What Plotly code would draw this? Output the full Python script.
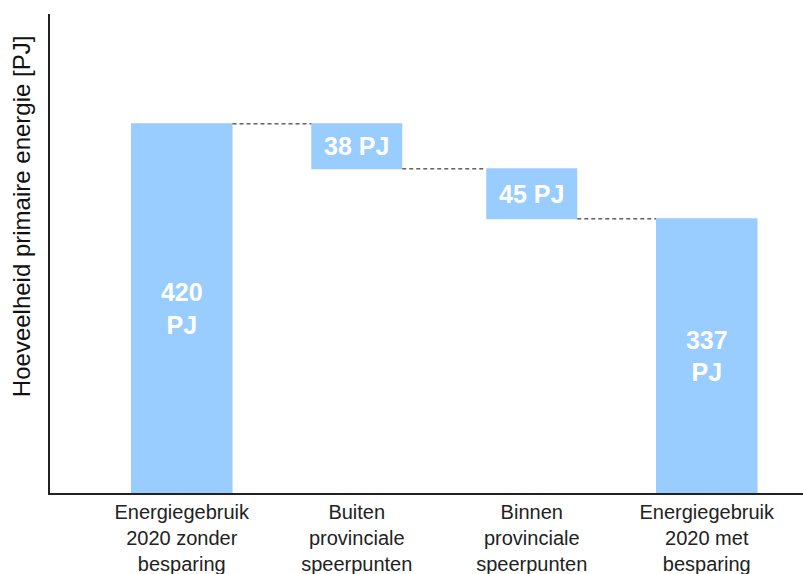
import plotly.graph_objects as go

categories = [
    "Energiegebruik<br>2020 zonder<br>besparing",
    "Buiten<br>provinciale<br>speerpunten",
    "Binnen<br>provinciale<br>speerpunten",
    "Energiegebruik<br>2020 met<br>besparing",
]
# bar heights as drawn in the picture (scale of the first bar = 420)
values = [420, -51.2, -56.9, 0]
measures = ["absolute", "relative", "relative", "total"]
labels = ["420<br>PJ", "38 PJ", "45 PJ", "337<br>PJ"]

bar_color = "#99CCFF"
widths = [0.58, 0.52, 0.52, 0.58]

fig = go.Figure(go.Waterfall(
    x=categories,
    y=values,
    measure=measures,
    width=widths,
    text=["<b>%s</b>" % t for t in labels],
    textposition="inside",
    insidetextanchor="middle",
    constraintext="none",
    textfont=dict(family="Liberation Sans, Arial, sans-serif", size=25, color="white"),
    increasing=dict(marker=dict(color=bar_color)),
    decreasing=dict(marker=dict(color=bar_color)),
    totals=dict(marker=dict(color=bar_color)),
    connector=dict(mode="between", line=dict(color="#111111", width=1, dash="4px,3px")),
    hoverinfo="skip",
))

fig.update_layout(
    width=803, height=574,
    margin=dict(l=50, r=0, t=14, b=81),
    paper_bgcolor="white", plot_bgcolor="white",
    showlegend=False,
    font=dict(family="Liberation Sans, Arial, sans-serif", color="#222222"),
    xaxis=dict(
        range=[-0.753, 3.55],
        automargin=False,
        showline=True, linecolor="#222222", linewidth=2,
        showgrid=False, zeroline=False, ticks="",
        tickfont=dict(size=20, color="#222222"),
    ),
    yaxis=dict(
        range=[0, 545],
        automargin=False,
        showline=True, linecolor="#222222", linewidth=2,
        showgrid=False, zeroline=False, showticklabels=False, ticks="",
    ),
    annotations=[dict(
        text="Hoeveelheid primaire energie [PJ]",
        xref="paper", yref="paper", x=-0.0385, y=0.578,
        textangle=-90, showarrow=False,
        font=dict(size=24, color="#111111"),
        xanchor="center", yanchor="middle",
    )],
)

fig.write_html("out.html")
